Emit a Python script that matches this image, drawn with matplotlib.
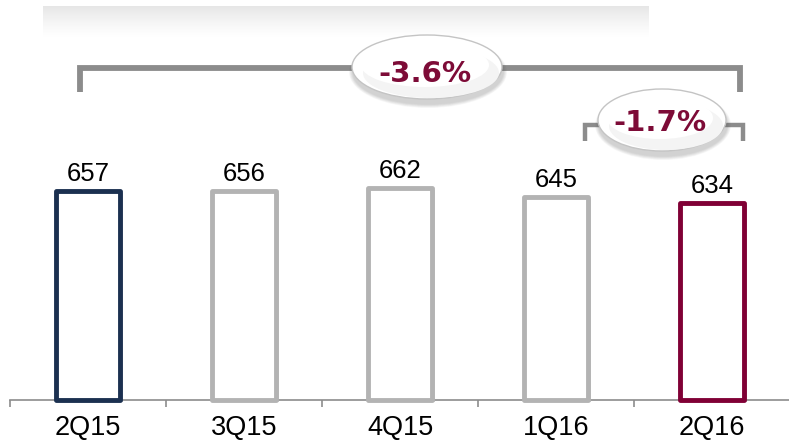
import matplotlib
matplotlib.use('Agg')
import matplotlib.pyplot as plt
import numpy as np
from matplotlib.patches import Ellipse
from matplotlib.lines import Line2D
import matplotlib.patheffects as pe

# ---- data ----
quarters = ['2Q15', '3Q15', '4Q15', '1Q16', '2Q16']
values = [657, 656, 662, 645, 634]
edge_colors = ['#1b3050', '#b3b3b3', '#b3b3b3', '#b3b3b3', '#800035']
change_labels = ['-3.6%', '-1.7%']

W, H = 789, 442
fig = plt.figure(figsize=(W / 100, H / 100), dpi=100)
fig.patch.set_facecolor('white')

base = 267
ax = fig.add_axes([10 / W, (H - 400) / H, 780 / W, 400 / H])
x = np.arange(len(quarters))
bars = ax.bar(x, np.array(values) - base, bottom=base, width=0.41,
              facecolor='white', edgecolor=edge_colors, linewidth=3.5,
              clip_on=False, zorder=3)
for b in bars:
    b.set_joinstyle('round')
    b.set_path_effects([pe.SimplePatchShadow(offset=(2.5, -1.5), shadow_rgbFace='#888888', alpha=0.35),
                        pe.Normal()])
for xi, v in zip(x, values):
    ax.annotate(str(v), (xi, v), xytext=(0, 10 * 0.72), textcoords='offset points',
                ha='center', va='baseline', fontsize=18.5, family='Liberation Sans',
                color='#000000')

ax.set_xlim(-0.5, 4.5)
ax.set_ylim(base, base + 400 / 0.536)
for s in ['top', 'right', 'left']:
    ax.spines[s].set_visible(False)
ax.spines['bottom'].set_color('#8c8c8c')
ax.spines['bottom'].set_linewidth(1.2)
ax.set_yticks([])
ax.set_xticks(x)
ax.set_xticklabels(quarters, family='Liberation Sans', fontsize=19.5)
ax.tick_params(axis='x', which='major', length=0, pad=11)
ax.set_xticks(np.arange(-0.5, 5.0, 1.0), minor=True)
ax.tick_params(axis='x', which='minor', length=5, width=1.2, color='#8c8c8c', direction='out')
ax.patch.set_alpha(0)

# ---- overlay (pixel coordinates) for decorations ----
ov = fig.add_axes([0, 0, 1, 1], zorder=5)
ov.set_xlim(0, W)
ov.set_ylim(H, 0)
ov.axis('off')
ov.patch.set_alpha(0)

# top gradient band
rows = 40
t = np.linspace(0, 1, rows)
alpha = 0.10 * (1 - t) ** 1.3
grad = np.zeros((rows, 1, 4))
grad[..., :3] = 0.0
grad[:, 0, 3] = alpha
ov.imshow(grad, extent=(43, 649, 40, 6), aspect='auto', interpolation='bilinear', zorder=0)

bracket_col = '#8c8c8c'
# big bracket
ov.add_line(Line2D([80, 80, 740, 740], [92, 68, 68, 92], color=bracket_col, lw=4.2,
                   solid_joinstyle='miter', solid_capstyle='butt', zorder=1))
# small bracket
ov.add_line(Line2D([585, 585, 743, 743], [141, 125, 125, 141], color=bracket_col, lw=3.2,
                   solid_joinstyle='miter', solid_capstyle='butt', zorder=1))


def bubble(cx, cy, w, h, label, ty):
    # soft shadow
    for i in range(8):
        ov.add_patch(Ellipse((cx + 1, cy + 5), w + 8 - i, h + 8 - i, facecolor='#555555',
                             edgecolor='none', alpha=0.035, zorder=2))
    ov.add_patch(Ellipse((cx, cy), w, h, facecolor='white', edgecolor='#c4c4c4', lw=1.0, zorder=3))
    # subtle shading
    ov.add_patch(Ellipse((cx + 4, cy + 6), w - 14, h - 14, facecolor='#f4f4f4', edgecolor='none', zorder=3))
    ov.add_patch(Ellipse((cx - 2, cy - 2), w - 22, h - 20, facecolor='white', edgecolor='none', zorder=3))
    ov.text(cx - 2, ty, label, ha='center', va='baseline', fontsize=21, fontweight='bold',
            family='DejaVu Sans', color='#7d0b37', zorder=4)


bubble(427, 67, 150, 64, change_labels[0], 82)
bubble(662, 120, 128, 62, change_labels[1], 131)

fig.savefig('out.png', dpi=100, facecolor='white')
